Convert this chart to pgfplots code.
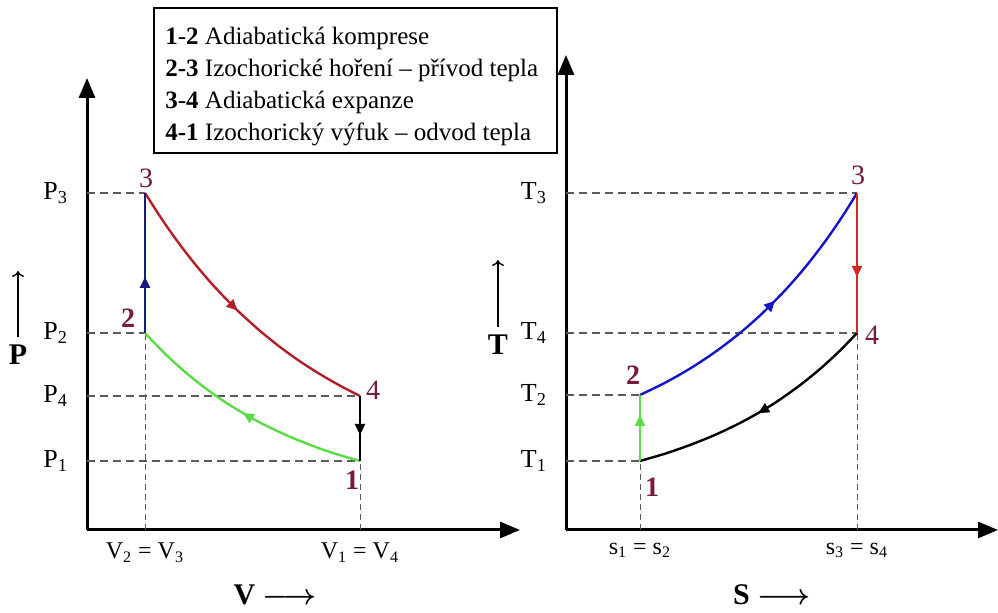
\documentclass[border=0pt]{standalone}
\usepackage{pgfplots}
\pgfplotsset{compat=1.18}
\usepackage{fontspec}
\setmainfont{Liberation Serif}
\usetikzlibrary{arrows.meta,decorations.markings}
\newcommand\fs[2]{\fontsize{#1}{#2}\selectfont}
\definecolor{redL}{RGB}{180,30,40}
\definecolor{navyL}{RGB}{25,25,130}
\definecolor{greenL}{RGB}{90,220,70}
\definecolor{blueR}{RGB}{20,20,200}
\definecolor{redR}{RGB}{210,40,40}
\definecolor{ptcol}{RGB}{120,25,55}
\definecolor{dashg}{RGB}{90,90,90}
\pgfplotsset{
  cyc/.style={
    axis lines=left,
    axis line style={line width=1.5pt,-{Triangle[length=10pt,width=8pt]}},
    major tick length=0pt,
    tick label style={font=\fs{13}{13}},
    xticklabel style={yshift=-3pt, font=\fs{12}{12}},
    yticklabel style={xshift=-6pt},
    scale only axis, clip=false,
  },
  hd/.style={dashg, line width=0.7pt, dash pattern=on 4pt off 2.5pt, forget plot},
  vd/.style={dashg, line width=0.5pt, dash pattern=on 3pt off 2pt, forget plot},
  midarr/.style={postaction={decorate}, decoration={markings, mark=at position #1 with {\arrow{Triangle[length=5.5pt,width=5pt]}}}},
}
\begin{document}
\begin{tikzpicture}
\useasboundingbox (0,0) rectangle (499pt,306.5pt);
% ---------- P-V diagram ----------
\begin{axis}[cyc,
  at={(43.5pt,41.5pt)}, anchor=south west,
  width=216.5pt, height=226pt,
  xmin=0, xmax=433, ymin=0, ymax=452,
  xtick={58,273},
  xticklabels={V\textsubscript{2} = V\textsubscript{3}, V\textsubscript{1} = V\textsubscript{4}},
  ytick={69,134,197,337},
  yticklabels={P\textsubscript{1},P\textsubscript{4},P\textsubscript{2},P\textsubscript{3}},
]
\addplot[hd] coordinates {(0,337) (58,337)};
\addplot[hd] coordinates {(0,197) (58,197)};
\addplot[hd] coordinates {(0,134) (273,134)};
\addplot[hd] coordinates {(0,69) (273,69)};
\addplot[vd] coordinates {(58,0) (58,197)};
\addplot[vd] coordinates {(273,0) (273,69)};
% 3-4 adiabatic expansion
\addplot[redL, line width=1.2pt, smooth, midarr=0.5] coordinates {
 (58,337) (76,309.1) (93,285.2) (110,263.5) (128,242.7) (150,220.0)
 (173,199.1) (193,183.0) (213,168.6) (233,155.8) (253,144.3) (273,134)};
% 1-2 adiabatic compression
\addplot[greenL, line width=1.2pt, smooth, midarr=0.5] coordinates {
 (273,69) (253,74.8) (233,81.4) (208,91.1) (183,102.4) (161,114.0)
 (138,128.0) (118,142.1) (98,158.1) (78,176.3) (58,197)};
% 2-3
\addplot[navyL, line width=1.2pt, midarr=0.4] coordinates {(58,197) (58,337)};
% 4-1
\addplot[black, line width=1.2pt, midarr=0.6] coordinates {(273,134) (273,69)};
\node[ptcol, font=\fs{14}{14}] at (axis cs:59,352) {3};
\node[ptcol, font=\fs{14}{14}\bfseries] at (axis cs:41,212) {2};
\node[ptcol, font=\fs{14}{14}] at (axis cs:286,140) {4};
\node[ptcol, font=\fs{14}{14}\bfseries] at (axis cs:265,50) {1};
\end{axis}
% ---------- T-S diagram ----------
\begin{axis}[cyc,
  at={(283pt,41.5pt)}, anchor=south west,
  width=216pt, height=237.5pt,
  xmin=0, xmax=432, ymin=0, ymax=475,
  xtick={74,291},
  xticklabels={s\textsubscript{1} = s\textsubscript{2}, s\textsubscript{3} = s\textsubscript{4}},
  ytick={69,135,197,337},
  yticklabels={T\textsubscript{1},T\textsubscript{2},T\textsubscript{4},T\textsubscript{3}},
]
\addplot[hd] coordinates {(0,337) (291,337)};
\addplot[hd] coordinates {(0,197) (291,197)};
\addplot[hd] coordinates {(0,135) (74,135)};
\addplot[hd] coordinates {(0,69) (74,69)};
\addplot[vd] coordinates {(74,0) (74,69)};
\addplot[vd] coordinates {(291,0) (291,197)};
% 2-3
\addplot[blueR, line width=1.2pt, smooth, midarr=0.55] coordinates {
 (74,135) (99,147.2) (124,161.4) (149,177.9) (174,197) (196,216.4)
 (219,239.6) (239,262.5) (259,288.4) (277,314.5) (291,337)};
% 4-1
\addplot[black, line width=1.2pt, smooth, midarr=0.5] coordinates {
 (291,197) (274,179.4) (254,161.0) (234,144.8) (214,130.5) (197,119.7)
 (174,107) (149,95.1) (124,85.0) (99,76.3) (74,69)};
% 3-4
\addplot[redR, line width=1.2pt, midarr=0.6] coordinates {(291,337) (291,197)};
% 1-2
\addplot[greenL, line width=1.2pt, midarr=0.7] coordinates {(74,69) (74,135)};
\node[ptcol, font=\fs{14}{14}] at (axis cs:292,355) {3};
\node[ptcol, font=\fs{14}{14}] at (axis cs:306,195) {4};
\node[ptcol, font=\fs{14}{14}\bfseries] at (axis cs:67,155) {2};
\node[ptcol, font=\fs{14}{14}\bfseries] at (axis cs:86,43) {1};
\end{axis}
% ---------- axis labels ----------
\node[font=\fs{15}{15}\bfseries] at (9pt,129pt) {P};
\draw[line width=0.7pt,-{To[length=3pt,width=6pt]}] (9pt,138pt) -- (9pt,171pt);
\node[font=\fs{15}{15}\bfseries] at (249pt,134pt) {T};
\draw[line width=0.7pt,-{To[length=3pt,width=6pt]}] (249pt,143pt) -- (249pt,176.5pt);
\node[font=\fs{15}{15}\bfseries\boldmath] at (137.5pt,9pt) {V $\longrightarrow$};
\node[font=\fs{15}{15}\bfseries\boldmath] at (386pt,9pt) {S $\longrightarrow$};
% ---------- legend ----------
\draw[line width=1pt, fill=white] (77pt,230pt) rectangle (278.5pt,302.5pt);
\begin{scope}[every node/.style={anchor=base west, font=\fs{12.5}{14}, inner sep=0pt}]
\node at (82.5pt,284pt) {\textbf{1}-\textbf{2} Adiabatická komprese};
\node at (82.5pt,268pt) {\textbf{2-3} Izochorické hoření – přívod tepla};
\node at (82.5pt,252pt) {\textbf{3}-\textbf{4} Adiabatická expanze};
\node at (82.5pt,236pt) {\textbf{4-1} Izochorický výfuk – odvod tepla};
\end{scope}
\end{tikzpicture}
\end{document}
